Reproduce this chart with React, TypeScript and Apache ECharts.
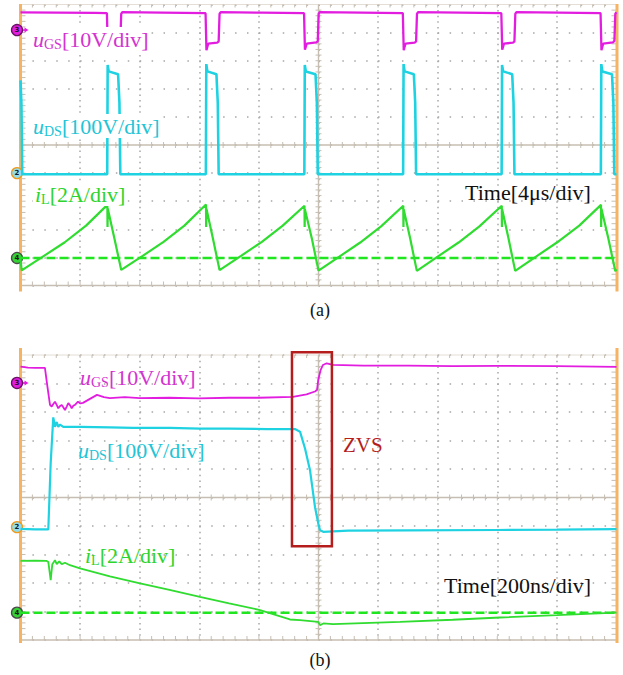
import React, { useEffect, useRef } from "react";
import * as echarts from "echarts";

// ---------- axes / scope settings ----------
const timeRangeA = [0, 40]; // µs, 4 µs/div
const timeRangeB = [0, 2000]; // ns, 200 ns/div
const timeDivA = 4;
const timeDivB = 200;
const divRange = [-5, 5];
const voltsPerDivGS = 10;
const voltsPerDivDS = 100;
const ampsPerDivL = 2;
// channel zero-level position, in divisions above the screen centre: uGS, uDS, iL
const zeroOffsetsA = [4.09, -1.0, -4.02];
const zeroOffsetsB = [4.02, -1.04, -4.04];
const channelNumbers = ["3", "2", "4"];

// ---------- panel (a) traces [t(µs), value] ----------
const uGS_a: number[][] = [
  [0, 6.3], [2.5, 6.2], [5.0, 6.1], [5.80, 6.0], [5.86, -7.2], [5.98, -4.8], [6.60, -4.5], [6.70, -4.0], [6.76, 5.8], [6.85, 6.4],
  [9.5, 6.2], [12.42, 6.0], [12.48, -7.2], [12.60, -4.8], [13.20, -4.5], [13.30, -4.0], [13.36, 5.8], [13.45, 6.4],
  [16.2, 6.2], [19.03, 6.0], [19.09, -7.0], [19.21, -4.8], [19.85, -4.4], [19.95, -4.0], [20.01, 5.8], [20.10, 6.4],
  [22.9, 6.2], [25.66, 6.0], [25.72, -7.2], [25.84, -4.8], [26.45, -4.5], [26.55, -4.0], [26.61, 5.8], [26.70, 6.4],
  [29.5, 6.2], [32.27, 6.0], [32.33, -7.0], [32.45, -4.8], [33.05, -4.5], [33.15, -4.0], [33.21, 5.8], [33.30, 6.4],
  [36.1, 6.2], [38.93, 6.0], [38.99, -7.2], [39.11, -4.8], [39.76, -4.4], [39.86, -3.8], [39.92, 5.8], [40.0, 6.3],
];
const uDS_a: number[][] = [
  [0, 330], [0.06, 250], [0.12, -4], [3.0, -4], [5.82, -4], [5.85, 385], [5.92, 362], [6.55, 352], [6.64, 250], [6.70, -4],
  [9.6, -4], [12.44, -4], [12.47, 388], [12.54, 362], [13.15, 352], [13.24, 250], [13.30, -4],
  [16.2, -4], [19.05, -4], [19.08, 385], [19.15, 362], [19.80, 352], [19.89, 250], [19.95, -4],
  [22.8, -4], [25.68, -4], [25.71, 388], [25.78, 362], [26.40, 352], [26.49, 250], [26.55, -4],
  [29.4, -4], [32.29, -4], [32.32, 385], [32.39, 362], [33.00, 352], [33.09, 250], [33.15, -4],
  [36.0, -4], [38.95, -4], [38.98, 388], [39.05, 362], [39.70, 352], [39.79, 250], [39.85, -4], [40, -4],
];
const iL_a: number[][] = [
  [0, -0.1], [0.08, -0.88], [1.5, 0.1], [2.95, 1.1], [4.4, 2.3], [5.83, 3.78], [5.84, 2.2], [5.86, 3.5], [6.3, 1.4], [6.76, -0.85],
  [8.2, 0.15], [9.6, 1.15], [11.0, 2.3], [12.45, 3.8], [12.46, 2.2], [12.48, 3.5], [12.9, 1.45], [13.36, -0.86],
  [14.8, 0.15], [16.2, 1.15], [17.6, 2.3], [19.06, 3.72], [19.07, 2.2], [19.09, 3.45], [19.55, 1.4], [20.0, -0.9],
  [21.4, 0.1], [22.8, 1.1], [24.2, 2.25], [25.69, 3.72], [25.70, 2.2], [25.72, 3.45], [26.15, 1.4], [26.6, -0.92],
  [28.0, 0.1], [29.4, 1.1], [30.8, 2.25], [32.30, 3.72], [32.31, 2.2], [32.33, 3.45], [32.75, 1.4], [33.2, -0.92],
  [34.6, 0.1], [36.0, 1.1], [37.5, 2.3], [38.96, 3.78], [38.97, 2.2], [38.99, 3.5], [39.45, 1.4], [39.92, -0.95], [40, -0.8],
];
const iLZero_a: number[][] = [[0, 0], [40, 0]];

// ---------- panel (b) traces [t(ns), value] ----------
const uGS_b: number[][] = [
  [0, 5.7], [25, 5.4], [48.7, 5.3], [82, 5.3], [90, -1.0], [99, -7.7], [104.7, -8.3], [110, -7.4], [115.8, -6.6], [121, -7.6],
  [126.8, -8.9], [132, -8.2], [138.3, -7.7], [144, -8.6], [149.3, -9.5], [155, -8.3], [160.4, -7.1], [166, -7.8], [171.8, -8.9],
  [177, -8.0], [182.9, -7.7], [193, -6.6], [201, -7.2], [209.7, -7.0], [233, -5.6], [256.7, -4.2], [280, -5.0], [300, -5.3],
  [350, -5.0], [400, -5.3], [500, -5.2], [600, -5.4], [700, -5.2], [800, -5.2], [914, -4.9], [960, -4.0], [988, -3.0],
  [995, -2.5], [999, 1.0], [1007, 4.5], [1015, 6.3], [1027.5, 6.9], [1048.6, 6.3], [1150, 6.1], [1300, 6.1], [1450, 5.9],
  [1600, 6.0], [1800, 5.9], [2000, 5.6],
];
const uDS_b: number[][] = [
  [0, -6], [48.7, -8], [93.3, -8], [101.3, 225], [110, 385], [115.8, 352], [121.5, 369], [126.8, 352], [132.6, 360],
  [143.6, 352], [200, 352], [300, 350], [377.5, 348], [500, 348], [602, 346], [700, 346], [827, 344], [921, 344],
  [938, 335], [955, 275], [971.5, 200], [988.3, 70], [999.3, 13], [1005, -10.5], [1016, -16.5], [1100, -12], [1300, -11],
  [1600, -10], [1800, -9], [2000, -7],
];
const iL_b: number[][] = [
  [0, 3.63], [48.7, 3.65], [88, 3.63], [93.3, 3.56], [101.3, 2.28], [106.7, 3.4], [115.8, 3.68], [121.5, 3.4], [130.2, 3.6],
  [138.3, 3.4], [149.3, 3.5], [166, 3.33], [199.7, 3.1], [300, 2.55], [401, 2.05], [500, 1.6], [602, 1.11], [700, 0.65],
  [804, 0.18], [904, -0.48], [938, -0.53], [999, -0.65], [1005, -0.88], [1016, -0.76], [1048.6, -0.81], [1273.5, -0.65],
  [1450, -0.5], [1609, -0.34], [1800, -0.18], [2000, 0.0],
];
const iLZero_b: number[][] = [[0, 0], [2000, 0]];
// ZVS highlight box: [t start, t end, uDS top, uDS bottom]
const zvsBox: number[] = [911, 1045, 614, -67];

// ---------- styles ----------
const MAG = "#e21de0";
const MAG_T = "#d433d0";
const CYA = "#1fd2e2";
const CYA_T = "#22c4d6";
const GRN = "#2fdc2f";
const GRN_T = "#2dd42d";
const GRN_D = "#1fe61f";
const RED = "#b51d1d";
const ORANGE = "#f6b463";
const GRAT = "#c6beb2";
const DOT = "#a6a6a6";
const SERIF = '"Liberation Serif", "Times New Roman", serif';
const markerFill = [MAG, "#8fdcec", "#34d234"];
const markerStroke = ["#6a1266", "#f09a1c", "#4a4a4a"];

const makeGraticule = (xr: number[], offsets: number[], bar: number[]) => (_p: any, api: any) => {
  const tl = api.coord([xr[0], divRange[1]]);
  const br = api.coord([xr[1], divRange[0]]);
  const ctr = api.coord([(xr[0] + xr[1]) / 2, 0]);
  const L = tl[0], T = tl[1], R = br[0], B = br[1], CX = ctr[0], CY = ctr[1];
  const kids: any[] = [];
  const seg = (x1: number, y1: number, x2: number, y2: number, w = 1, c = GRAT) =>
    kids.push({ type: "line", shape: { x1, y1, x2, y2 }, style: { stroke: c, lineWidth: w } });
  seg(L, CY, R, CY, 1.4);
  seg(CX, T, CX, B, 1.4);
  seg(L, B, R, B, 1.4);
  seg(L, T, R, T, 0.8, "#ddd6cc");
  for (let i = 1; i < 50; i++) {
    const x = L + ((R - L) * i) / 50;
    seg(x, CY - 3, x, CY + 3);
    seg(x, B, x, B - 4);
    seg(x, T, x, T + 3);
  }
  for (let j = 1; j < 50; j++) {
    const y = T + ((B - T) * j) / 50;
    seg(CX - 3, y, CX + 3, y);
    seg(L, y, L + 5, y);
    seg(R, y, R - 5, y);
  }
  kids.push({ type: "rect", shape: { x: L - 1.5, y: T + bar[0], width: 3, height: B - T + bar[1] - bar[0] }, style: { fill: ORANGE } });
  kids.push({ type: "rect", shape: { x: R - 1, y: T + bar[0], width: 3, height: B - T + bar[1] - bar[0] }, style: { fill: ORANGE } });
  offsets.forEach((off, k) => {
    const y = api.coord([xr[0], off])[1];
    const cx = L - 3.5;
    if (k === 0) {
      seg(cx + 5, y, L + 5, y, 1.5, MAG);
      kids.push({ type: "polygon", shape: { points: [[L + 8, y], [L + 4, y - 2.5], [L + 4, y + 2.5]] }, style: { fill: MAG } });
    }
    kids.push({ type: "circle", shape: { cx, cy: y, r: 5.5 }, style: { fill: markerFill[k], stroke: markerStroke[k], lineWidth: 1.3 } });
    kids.push({
      type: "text",
      style: {
        text: channelNumbers[k], x: cx, y, align: "center", verticalAlign: "middle", textAlign: "center", textVerticalAlign: "middle",
        fontSize: 7, fontFamily: "DejaVu Sans", fontWeight: "bold", fill: "#1a1a1a",
      },
    });
  });
  return { type: "group", children: kids };
};

const trace = (data: number[][], xi: number, yi: number, color: string, width = 2, extra: any = {}) => ({
  type: "line", data, xAxisIndex: xi, yAxisIndex: yi, showSymbol: false, symbol: "none", silent: true,
  lineStyle: { color, width, ...(extra.lineStyle || {}) }, itemStyle: { color }, z: 3,
});

const chanAxes = (grid: number, offsets: number[]) =>
  [voltsPerDivGS, voltsPerDivDS, ampsPerDivL].map((s, k) => ({
    gridIndex: grid, type: "value", show: false,
    min: (divRange[0] - offsets[k]) * s, max: (divRange[1] - offsets[k]) * s,
  }));

const chanLabel = (x: number, y: number, v: string, sub: string, rest: string, color: string, bg: boolean) => ({
  type: "text", x, y, z: 100,
  style: {
    text: `{v|${v}}{s|${sub}}{r|${rest}}`,
    rich: {
      v: { fontFamily: SERIF, fontSize: 22, fontStyle: "italic", fill: color, lineHeight: 24, verticalAlign: "middle" },
      s: { fontFamily: SERIF, fontSize: 14, fill: color, lineHeight: 14, verticalAlign: "bottom" },
      r: { fontFamily: SERIF, fontSize: 22, fill: color, lineHeight: 24, verticalAlign: "middle" },
    },
    fill: color, align: "left", verticalAlign: "middle", textAlign: "left", textVerticalAlign: "middle",
    backgroundColor: bg ? "#ffffff" : "transparent", padding: [0, 2, 0, 2],
  },
});

const plainText = (x: number, y: number, text: string, color: string, size: number, align = "left") => ({
  type: "text", x, y, z: 100,
  style: {
    text, fill: color, fontFamily: SERIF, fontSize: size, align, verticalAlign: "middle", textAlign: align, textVerticalAlign: "middle",
  },
});

export default function App() {
  const ref = useRef<HTMLDivElement>(null);
  useEffect(() => {
    if (!ref.current) return;
    const chart = echarts.init(ref.current, undefined, { renderer: "svg" });
    const xBase = (grid: number, r: number[], step: number, dash: number[]) => ({
      gridIndex: grid, type: "value", min: r[0], max: r[1], interval: step,
      axisLine: { show: false }, axisTick: { show: false }, axisLabel: { show: false },
      splitLine: { show: true, lineStyle: { color: DOT, width: 1.5, type: dash } },
    });
    const yDiv = (grid: number) => ({
      gridIndex: grid, type: "value", min: divRange[0], max: divRange[1], interval: 1,
      axisLine: { show: false }, axisTick: { show: false }, axisLabel: { show: false },
      splitLine: { show: true, lineStyle: { color: DOT, width: 1.5, type: [1.5, 10.42] } },
    });
    const option: any = {
      animation: false,
      backgroundColor: "#ffffff",
      grid: [
        { left: 20.5, top: 4.5, width: 596, height: 281 },
        { left: 20.5, top: 355, width: 596, height: 285 },
      ],
      xAxis: [
        xBase(0, timeRangeA, timeDivA, [1.5, 4.12]),
        xBase(1, timeRangeB, timeDivB, [1.5, 4.2]),
      ],
      yAxis: [yDiv(0), ...chanAxes(0, zeroOffsetsA), yDiv(1), ...chanAxes(1, zeroOffsetsB)],
      series: [
        { type: "custom", xAxisIndex: 0, yAxisIndex: 0, data: [[timeRangeA[0], 0]], renderItem: makeGraticule(timeRangeA, zeroOffsetsA, [-0.5, 6]), z: 1, silent: true },
        trace(iLZero_a, 0, 3, GRN_D, 2.5, { lineStyle: { type: [9, 4] } }),
        trace(uGS_a, 0, 1, MAG, 2.3),
        trace(uDS_a, 0, 2, CYA, 2.6),
        trace(iL_a, 0, 3, GRN, 2.2),
        { type: "custom", xAxisIndex: 1, yAxisIndex: 4, data: [[timeRangeB[0], 0]], renderItem: makeGraticule(timeRangeB, zeroOffsetsB, [-7, 3]), z: 1, silent: true },
        trace(iLZero_b, 1, 7, GRN_D, 2.5, { lineStyle: { type: [9, 4] } }),
        trace(uGS_b, 1, 5, MAG, 1.8),
        trace(uDS_b, 1, 6, CYA, 2.2),
        trace(iL_b, 1, 7, GRN, 1.8),
        {
          type: "custom", xAxisIndex: 1, yAxisIndex: 6, data: [zvsBox], encode: { x: [0, 1], y: [2, 3] }, z: 5, silent: true,
          renderItem: (_p: any, api: any) => {
            const a = api.coord([api.value(0), api.value(2)]);
            const b = api.coord([api.value(1), api.value(3)]);
            return { type: "rect", shape: { x: a[0], y: a[1], width: b[0] - a[0], height: b[1] - a[1] }, style: { fill: "none", stroke: RED, lineWidth: 2.5 } };
          },
        },
      ],
      graphic: [
        chanLabel(31, 39, "u", "GS", "[10V/div]", MAG_T, true),
        chanLabel(31, 126, "u", "DS", "[100V/div]", CYA_T, true),
        chanLabel(33, 194, "i", "L", "[2A/div]", GRN_T, true),
        plainText(465, 192, "Time[4μs/div]", "#111111", 22),
        plainText(320, 310, "(a)", "#111111", 18, "center"),
        chanLabel(78, 377, "u", "GS", "[10V/div]", MAG_T, false),
        chanLabel(76, 450, "u", "DS", "[100V/div]", CYA_T, false),
        chanLabel(83, 555, "i", "L", "[2A/div]", GRN_T, false),
        plainText(444, 585, "Time[200ns/div]", "#111111", 22),
        plainText(343, 445, "ZVS", RED, 21),
        plainText(320, 660, "(b)", "#111111", 18, "center"),
      ],
    };
    chart.setOption(option);
    return () => chart.dispose();
  }, []);
  return <div ref={ref} style={{ position: "absolute", left: 0, top: 0, width: 623, height: 675, background: "#fff" }} />;
}
